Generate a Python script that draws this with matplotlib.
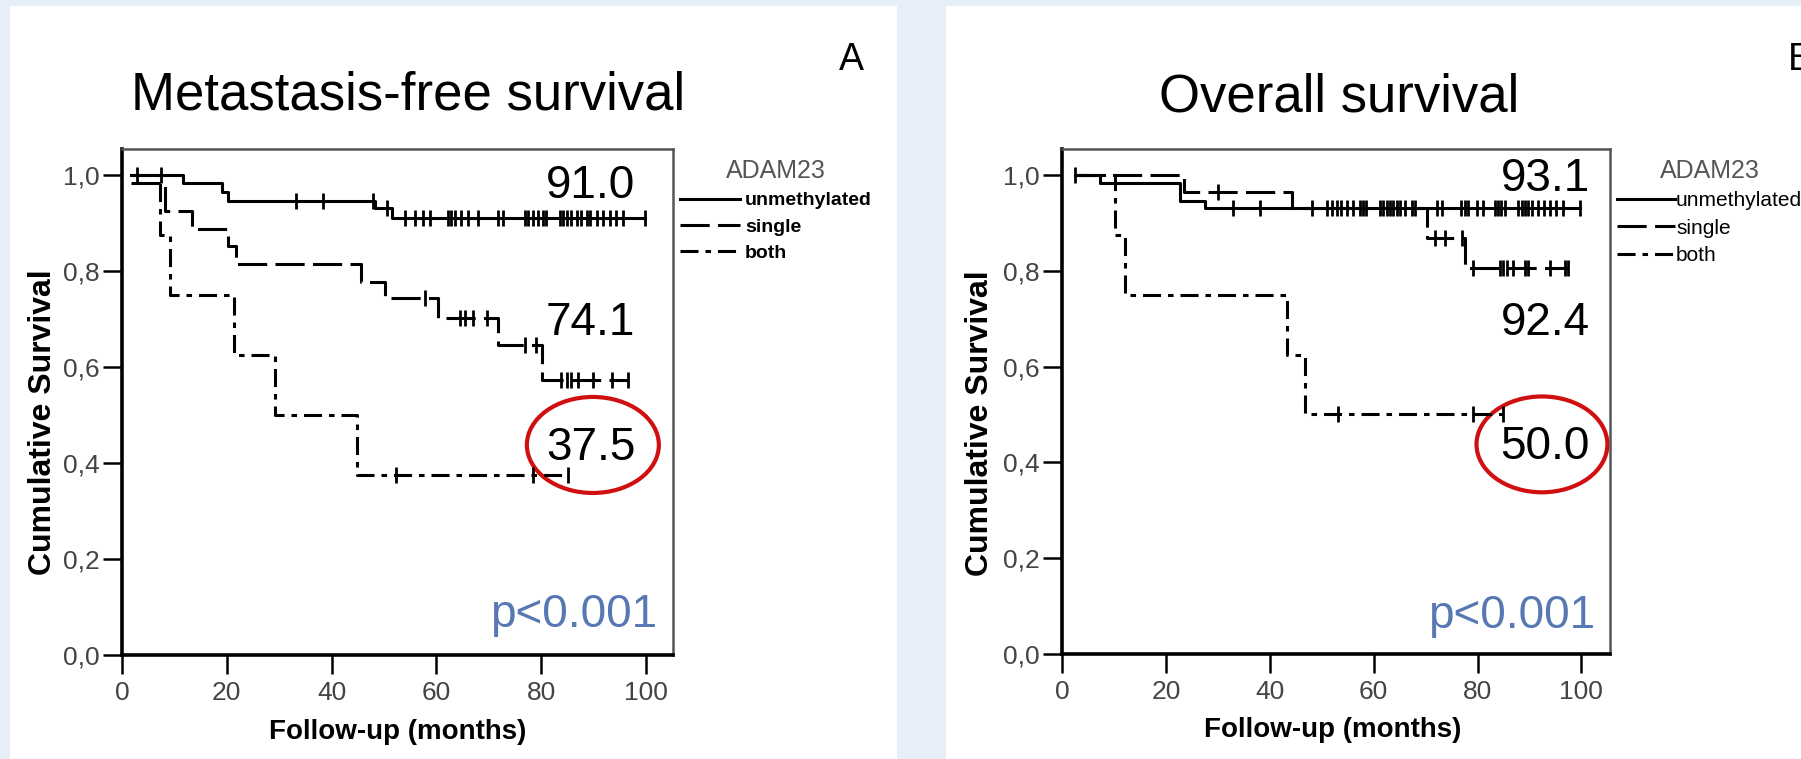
import numpy as np
import matplotlib
matplotlib.use('Agg')
import matplotlib.pyplot as plt
from matplotlib.patches import Rectangle, Ellipse
from matplotlib.ticker import FuncFormatter

plt.rcParams['font.family'] = ['Liberation Sans', 'DejaVu Sans']
plt.rcParams['lines.scale_dashes'] = False

W, H = 1801, 759

# ---- metastasis-free survival (panel A) ----
# each group: start time, start value, event times, survival after event, end time, censored times
mfs_unmeth_start, mfs_unmeth_init = 1.8, 1.0
mfs_unmeth_t = [11.7, 19.0, 20.3, 48.3, 51.5]
mfs_unmeth_s = [0.983, 0.965, 0.946, 0.931, 0.910]
mfs_unmeth_end = 99.8
mfs_unmeth_cens = [2.8, 7.4, 33.3, 38.4, 48.0, 50.5, 54.0, 55.9, 57.5, 58.8, 62.3, 62.9,
                   63.5, 64.8, 66.1, 68.0, 71.8, 72.8, 76.9, 77.5, 78.5, 79.5, 80.4,
                   81.0, 83.6, 84.2, 84.9, 85.8, 86.8, 87.7, 88.7, 89.3, 90.6, 91.9,
                   93.1, 94.4, 95.7, 99.8]

mfs_single_start, mfs_single_init = 1.8, 0.983
mfs_single_t = [8.2, 13.4, 20.3, 21.7, 45.7, 50.2, 60.4, 71.8, 80.1]
mfs_single_s = [0.925, 0.888, 0.851, 0.814, 0.778, 0.743, 0.701, 0.646, 0.573]
mfs_single_end = 96.6
mfs_single_cens = [57.8, 64.5, 65.5, 67.0, 69.6, 76.9, 79.1, 83.9, 84.9, 85.8, 87.1,
                   90.0, 93.5, 96.6]

mfs_both_start, mfs_both_init = 1.8, 1.0
mfs_both_t = [7.3, 9.2, 21.4, 29.2, 44.8]
mfs_both_s = [0.875, 0.75, 0.625, 0.5, 0.375]
mfs_both_end = 85.2
mfs_both_cens = [52.3, 78.5, 85.2]

# ---- overall survival (panel B) ----
os_unmeth_start, os_unmeth_init = 2.5, 1.0
os_unmeth_t = [7.3, 22.8, 27.5]
os_unmeth_s = [0.983, 0.946, 0.930]
os_unmeth_end = 99.7
os_unmeth_cens = [2.5, 33.0, 38.2, 48.1, 51.0, 51.9, 52.9, 53.8, 54.8, 56.1, 57.4, 58.0,
                  58.6, 61.2, 61.8, 62.5, 63.1, 63.8, 64.4, 65.1, 66.0, 67.3, 68.0,
                  72.1, 73.1, 76.9, 77.6, 78.2, 79.8, 81.1, 83.3, 84.0, 84.6, 85.3,
                  87.8, 88.5, 89.1, 89.8, 90.4, 91.7, 92.7, 93.9, 95.2, 96.5, 99.7]

os_single_start, os_single_init = 2.5, 1.0
os_single_t = [23.4, 44.2, 70.2, 77.6]
os_single_s = [0.964, 0.930, 0.868, 0.806]
os_single_end = 97.5
os_single_cens = [30.1, 71.8, 73.7, 77.0, 79.2, 84.3, 84.9, 85.6, 86.9, 89.1, 89.8,
                  93.9, 96.8, 97.5]

os_both_start, os_both_init = 2.5, 1.0
os_both_t = [10.2, 12.1, 43.4, 46.8]
os_both_s = [0.875, 0.75, 0.625, 0.5]
os_both_end = 84.9
os_both_cens = [53.2, 79.2, 84.9]

group_labels = ['unmethylated', 'single', 'both']
mfs_rates = ['91.0', '74.1', '37.5']
os_rates = ['93.1', '92.4', '50.0']

line_styles = ['-', (0, (21, 6)), (0, (13, 5, 4, 5))]


def draw_group(ax, start, init, t, s, end, cens, ls):
    t = np.asarray(t)
    s = np.asarray(s)
    xs = np.r_[start, t, end]
    ys = np.r_[init, s, s[-1]]
    line, = ax.step(xs, ys, where='post', color='black', lw=2.2, ls=ls)
    vals = np.r_[init, s]
    c = np.asarray(cens)
    cy = vals[np.searchsorted(t, c, side='right')]
    ax.plot(c, cy, ls='none', marker='|', ms=12, mew=2.0, color='black')
    return line


def style_axes(ax, xmax):
    ax.set_xlim(0, xmax)
    ax.set_ylim(0, 1.054)
    ax.set_xticks([0, 20, 40, 60, 80, 100])
    ax.set_yticks([0, 0.2, 0.4, 0.6, 0.8, 1.0])
    ax.yaxis.set_major_formatter(FuncFormatter(lambda v, p: f"{v:.1f}".replace('.', ',')))
    ax.tick_params(direction='out', length=14, width=1.8, labelsize=19,
                   labelcolor='#444444', color='black')
    ax.tick_params(axis='y', pad=2)
    ax.tick_params(axis='x', pad=5)
    for side in ['left', 'bottom']:
        ax.spines[side].set_linewidth(2.6)
        ax.spines[side].set_color('black')
    for side in ['top', 'right']:
        ax.spines[side].set_linewidth(1.8)
        ax.spines[side].set_color('#555555')
    ax.set_xlabel('Follow-up (months)', fontsize=20, fontweight='bold')
    ax.set_ylabel('Cumulative Survival', fontsize=23, fontweight='bold')
    ax.xaxis.label.set_va('center')
    ax.yaxis.label.set_va('center')


fig = plt.figure(figsize=(18.01, 7.59), dpi=100)
fig.patch.set_facecolor('#e6eef8')
fig.add_artist(Rectangle((10 / W, 0), 887 / W, 1 - 6 / H, transform=fig.transFigure,
                         facecolor='white', edgecolor='none', zorder=-1))
fig.add_artist(Rectangle((946 / W, 0), 1 - 946 / W, 1 - 6 / H, transform=fig.transFigure,
                         facecolor='white', edgecolor='none', zorder=-1))

axA = fig.add_axes([122 / W, 1 - 655 / H, 551 / W, 506 / H])
axB = fig.add_axes([1062 / W, 1 - 654 / H, 548 / W, 505 / H])

# panel A
hA = [draw_group(axA, mfs_unmeth_start, mfs_unmeth_init, mfs_unmeth_t, mfs_unmeth_s,
                 mfs_unmeth_end, mfs_unmeth_cens, line_styles[0]),
      draw_group(axA, mfs_single_start, mfs_single_init, mfs_single_t, mfs_single_s,
                 mfs_single_end, mfs_single_cens, line_styles[1]),
      draw_group(axA, mfs_both_start, mfs_both_init, mfs_both_t, mfs_both_s,
                 mfs_both_end, mfs_both_cens, line_styles[2])]
style_axes(axA, 105.2)
axA.xaxis.set_label_coords(0.501, -0.152)
axA.yaxis.set_label_coords(-0.143, 0.46)

for txt, y in zip(mfs_rates, [0.952, 0.667, 0.406]):
    axA.text(98.0, y, txt, ha='right', va='baseline', fontsize=33)
axA.text(102.2, 0.058, 'p<0.001', ha='right', va='baseline', fontsize=33, color='#5878b4')
axA.add_patch(Ellipse((89.9, 0.4375), 25.2, 0.2, fill=False, edgecolor='#d01010',
                      lw=3, clip_on=False))

legA = axA.legend(hA, group_labels, title='ADAM23', loc='upper left',
                  bbox_to_anchor=(1.0127, 0.98), frameon=False, borderpad=0,
                  borderaxespad=0, handlelength=3.09, handletextpad=0.26,
                  labelspacing=0.45, prop={'weight': 'bold', 'size': 14},
                  title_fontproperties={'size': 18})
legA.get_title().set_color('#555555')

# panel B
hB = [draw_group(axB, os_unmeth_start, os_unmeth_init, os_unmeth_t, os_unmeth_s,
                 os_unmeth_end, os_unmeth_cens, line_styles[0]),
      draw_group(axB, os_single_start, os_single_init, os_single_t, os_single_s,
                 os_single_end, os_single_cens, line_styles[1]),
      draw_group(axB, os_both_start, os_both_init, os_both_t, os_both_s,
                 os_both_end, os_both_cens, line_styles[2])]
style_axes(axB, 105.5)
axB.xaxis.set_label_coords(0.4945, -0.15)
axB.yaxis.set_label_coords(-0.1496, 0.457)

for txt, y in zip(os_rates, [0.967, 0.665, 0.408]):
    axB.text(101.6, y, txt, ha='right', va='baseline', fontsize=33)
axB.text(102.6, 0.054, 'p<0.001', ha='right', va='baseline', fontsize=33, color='#5878b4')
axB.add_patch(Ellipse((92.4, 0.4375), 25.2, 0.2, fill=False, edgecolor='#d01010',
                      lw=3, clip_on=False))

legB = axB.legend(hB, group_labels, title='ADAM23', loc='upper left',
                  bbox_to_anchor=(1.0128, 0.98), frameon=False, borderpad=0,
                  borderaxespad=0, handlelength=2.78, handletextpad=0.05,
                  labelspacing=0.4, prop={'size': 15},
                  title_fontproperties={'size': 18})
legB.get_title().set_color('#555555')

# titles and panel letters
fig.text(408 / W, 1 - 110 / H, 'Metastasis-free survival', ha='center', va='baseline',
         fontsize=38)
fig.text(1339 / W, 1 - 111 / H, 'Overall survival', ha='center', va='baseline', fontsize=38)
fig.text(851 / W, 1 - 70 / H, 'A', ha='center', va='baseline', fontsize=27)
fig.text(1788 / W, 1 - 70 / H, 'B', ha='left', va='baseline', fontsize=27)

fig.savefig('out.png', dpi=100, facecolor=fig.get_facecolor())
